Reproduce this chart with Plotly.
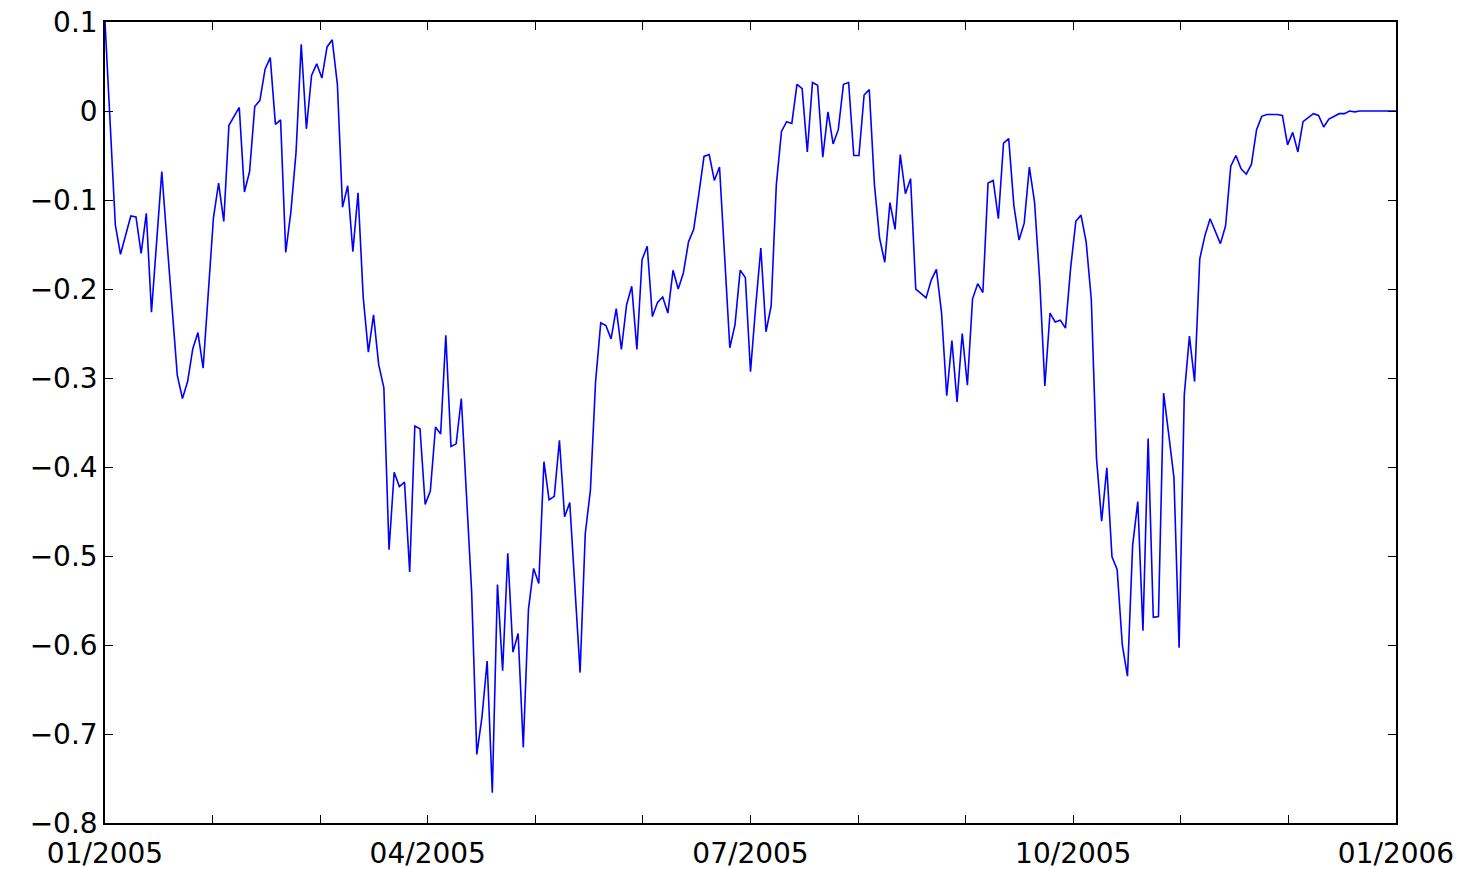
import plotly.graph_objects as go

# Daily values (one per trading day, 2005)
values = [
    0.100, -0.020, -0.128, -0.161, -0.138, -0.118, -0.119, -0.160, -0.115, -0.226,
    -0.147, -0.068, -0.146, -0.219, -0.297, -0.323, -0.304, -0.267, -0.249, -0.289,
    -0.205, -0.120, -0.081, -0.124, -0.016, -0.006, 0.004, -0.091, -0.068, 0.005,
    0.012, 0.047, 0.060, -0.015, -0.010, -0.159, -0.113, -0.046, 0.075, -0.020,
    0.040, 0.053, 0.037, 0.072, 0.080, 0.030, -0.108, -0.084, -0.158, -0.092,
    -0.209, -0.271, -0.229, -0.285, -0.311, -0.493, -0.406, -0.422, -0.417, -0.518,
    -0.354, -0.357, -0.442, -0.427, -0.355, -0.363, -0.252, -0.377, -0.374, -0.323,
    -0.430, -0.540, -0.723, -0.681, -0.618, -0.766, -0.532, -0.629, -0.497, -0.608,
    -0.587, -0.715, -0.560, -0.514, -0.531, -0.394, -0.437, -0.433, -0.370, -0.456,
    -0.440, -0.537, -0.631, -0.475, -0.426, -0.304, -0.238, -0.241, -0.256, -0.222,
    -0.268, -0.218, -0.197, -0.268, -0.167, -0.152, -0.231, -0.215, -0.209, -0.227,
    -0.179, -0.200, -0.182, -0.147, -0.133, -0.093, -0.051, -0.049, -0.078, -0.063,
    -0.162, -0.266, -0.240, -0.179, -0.187, -0.293, -0.220, -0.154, -0.248, -0.219,
    -0.083, -0.023, -0.012, -0.014, 0.030, 0.025, -0.046, 0.032, 0.029, -0.052,
    -0.001, -0.037, -0.021, 0.030, 0.032, -0.050, -0.050, 0.018, 0.024, -0.083,
    -0.143, -0.170, -0.103, -0.133, -0.049, -0.093, -0.076, -0.200, -0.205, -0.210,
    -0.190, -0.178, -0.227, -0.320, -0.258, -0.327, -0.250, -0.308, -0.211, -0.194,
    -0.204, -0.081, -0.078, -0.121, -0.036, -0.031, -0.106, -0.145, -0.126, -0.063,
    -0.102, -0.190, -0.309, -0.227, -0.237, -0.235, -0.244, -0.176, -0.124, -0.117,
    -0.147, -0.212, -0.390, -0.461, -0.401, -0.501, -0.515, -0.600, -0.635, -0.488,
    -0.439, -0.584, -0.368, -0.569, -0.568, -0.317, -0.364, -0.412, -0.603, -0.319,
    -0.253, -0.304, -0.166, -0.140, -0.121, -0.135, -0.149, -0.129, -0.062, -0.050,
    -0.065, -0.071, -0.060, -0.021, -0.006, -0.004, -0.004, -0.004, -0.005, -0.038,
    -0.024, -0.046, -0.012, -0.008, -0.003, -0.005, -0.018, -0.009, -0.006, -0.003,
    -0.003, 0.000, -0.001, 0.000, 0.000, 0.000, 0.000, 0.000, 0.000, 0.000,
    0.000,
]

month_labels = ["01/2005", "", "", "04/2005", "", "", "07/2005", "", "",
                "10/2005", "", "", "01/2006"]
y_ticks = [-0.8, -0.7, -0.6, -0.5, -0.4, -0.3, -0.2, -0.1, 0.0, 0.1]

n = len(values)
x = list(range(n))
month_pos = [k * (n - 1) / 12 for k in range(len(month_labels))]

fig = go.Figure()
fig.add_trace(go.Scatter(
    x=x, y=values, mode="lines",
    line=dict(color="#0000FF", width=1.6),
    showlegend=False, hoverinfo="skip",
))

axis_font = dict(family="DejaVu Sans, Arial, sans-serif", size=28, color="black")

fig.update_layout(
    width=1474, height=869,
    margin=dict(l=105, r=78, t=22, b=46),
    paper_bgcolor="white", plot_bgcolor="white",
    xaxis=dict(
        range=[0, n - 1], tickmode="array", tickvals=month_pos, ticktext=month_labels,
        ticks="inside", ticklen=8, tickwidth=1.2, tickcolor="black",
        showline=True, linecolor="black", linewidth=1.5, mirror="allticks",
        showgrid=False, zeroline=False, tickfont=axis_font,
        automargin=False, ticklabelstandoff=5,
    ),
    yaxis=dict(
        range=[-0.8, 0.1], tickmode="array", tickvals=y_ticks,
        ticktext=[("0" if abs(v) < 1e-9 else f"{v:.1f}".replace("-", "\u2212")) for v in y_ticks],
        ticks="inside", ticklen=8, tickwidth=1.2, tickcolor="black",
        showline=True, linecolor="black", linewidth=1.5, mirror="allticks",
        showgrid=False, zeroline=False, tickfont=axis_font,
        automargin=False,
    ),
)

# remove the page's default body margin so the figure sits at the window origin
fig.write_html("out.html", config={"displayModeBar": False},
               post_script="document.body.style.margin='0';")
